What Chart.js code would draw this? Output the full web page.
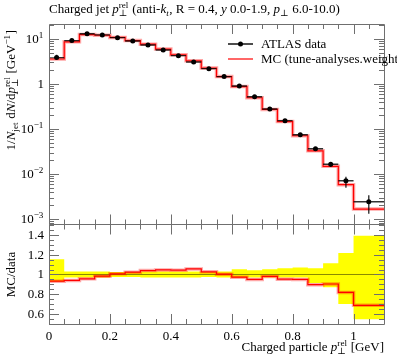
<!DOCTYPE html>
<html><head><meta charset="utf-8">
<script src="https://cdn.jsdelivr.net/npm/chart.js@4"></script>
<style>html,body{margin:0;padding:0;background:#fff;}canvas{display:block;}</style>
</head><body>
<canvas id="c" width="397" height="358"></canvas>
<script>
// ---------------- data ----------------
const binEdges = [0, 0.05, 0.1, 0.15, 0.2, 0.25, 0.3, 0.35, 0.4, 0.45, 0.5, 0.55, 0.6, 0.65, 0.7, 0.75, 0.8, 0.85, 0.9, 0.95, 1.0, 1.1];
const dataValues = [3.85, 9.2, 13.1, 12.3, 10.7, 9.0, 7.36, 5.7, 4.26, 3.08, 2.19, 1.46, 0.90, 0.52, 0.278, 0.153, 0.0745, 0.0365, 0.0164, 0.0071, 0.00242];
const dataErrUpRel = [0.155, 0.03, 0.03, 0.03, 0.025, 0.025, 0.03, 0.03, 0.03, 0.03, 0.025, 0.03, 0.054, 0.044, 0.054, 0.064, 0.071, 0.064, 0.115, 0.22, 0.396];
const dataErrDownRel = [0.074, 0.03, 0.03, 0.03, 0.025, 0.025, 0.03, 0.03, 0.03, 0.03, 0.025, 0.03, 0.034, 0.03, 0.03, 0.03, 0.03, 0.088, 0.129, 0.30, 0.457];
const mcValues = [3.59, 8.64, 12.5, 12.1, 10.8, 9.2, 7.65, 5.97, 4.45, 3.26, 2.25, 1.46, 0.876, 0.494, 0.272, 0.146, 0.0708, 0.0327, 0.0148, 0.0058, 0.00166];
const ratioValues = [0.932, 0.939, 0.956, 0.983, 1.007, 1.024, 1.04, 1.047, 1.044, 1.057, 1.027, 1.003, 0.973, 0.95, 0.98, 0.952, 0.95, 0.896, 0.903, 0.817, 0.685];
const xTickValues = [0, 0.2, 0.4, 0.6, 0.8, 1.0];
const xTickLabels = ['0', '0.2', '0.4', '0.6', '0.8', '1'];
const yTickValues = [10, 1, 0.1, 0.01, 0.001];
const yTickBase = ['10', '1', '10', '10', '10'];
const yTickExp = ['1', '', '\u22121', '\u22122', '\u22123'];
const ratioTickValues = [0.6, 0.8, 1.0, 1.2, 1.4];
const ratioTickLabels = ['0.6', '0.8', '1', '1.2', '1.4'];
const legendLabels = ['ATLAS data', 'MC (tune-analyses.weight'];

// ---------------- helpers ----------------
function stepPoints(vals) {
  const pts = vals.map((v, i) => ({x: binEdges[i], y: v}));
  pts.push({x: binEdges[binEdges.length - 1], y: vals[vals.length - 1]});
  return pts;
}
const bandHigh = stepPoints(dataErrUpRel.map(e => 1 + e));
const bandLow = stepPoints(dataErrDownRel.map(e => 1 - e));
const centers = dataValues.map((v, i) => ({x: (binEdges[i] + binEdges[i + 1]) / 2, y: v}));

const SERIF = '"Liberation Serif", "DejaVu Serif", serif';
const FS = 13;
function font(size, it) { return (it ? 'italic ' : '') + size + 'px ' + SERIF; }
function segWidth(ctx, s, size) {
  if (s.t !== undefined) { ctx.font = font(size, s.i); return ctx.measureText(s.t).width; }
  const ss = size * 0.7; let w = 0;
  if (s.sub) { ctx.font = font(ss, s.si); w = Math.max(w, ctx.measureText(s.sub).width); }
  if (s.sup) { ctx.font = font(ss, s.pi); w = Math.max(w, ctx.measureText(s.sup).width); }
  return w + 0.6;
}
function drawRich(ctx, segs, x, y, size, align) {
  const total = segs.reduce((a, s) => a + segWidth(ctx, s, size), 0);
  let cx = align === 'right' ? x - total : align === 'center' ? x - total / 2 : x;
  ctx.textAlign = 'left'; ctx.textBaseline = 'alphabetic';
  for (const s of segs) {
    const w = segWidth(ctx, s, size);
    if (s.t !== undefined) { ctx.font = font(size, s.i); ctx.fillText(s.t, cx, y); }
    else {
      const ss = size * 0.7;
      if (s.sub) { ctx.font = font(ss, s.si); ctx.fillText(s.sub, cx, y + size * 0.25); }
      if (s.sup) { ctx.font = font(ss, s.pi); ctx.fillText(s.sup, cx, y - size * 0.4); }
    }
    cx += w;
  }
  return total;
}
const PERP = '\u22a5';
const titleSegs = [{t: 'Charged jet '}, {t: 'p', i: true}, {sub: PERP, sup: 'rel'}, {t: ' (anti-'}, {t: 'k', i: true}, {sub: 't', si: true},
  {t: ', R = 0.4, '}, {t: 'y', i: true}, {t: ' 0.0-1.9, '}, {t: 'p', i: true}, {sub: PERP}, {t: ' 6.0-10.0)'}];
const xTitleSegs = [{t: 'Charged particle '}, {t: 'p', i: true}, {sub: PERP, sup: 'rel'}, {t: ' [GeV]'}];
const yTitleSegs = [{t: '1/'}, {t: 'N', i: true}, {sub: 'jet'}, {t: ' d'}, {t: 'N', i: true}, {t: '/d'}, {t: 'p', i: true}, {sub: PERP, sup: 'rel'}, {t: ' [GeV'}, {sup: '\u22121'}, {t: ']'}];
const rTitleSegs = [{t: 'MC/data'}];

const FRAME = '#6f6f6f';
const MAJ = 10, MIN = 5;

const rivetPlugin = {
  id: 'rivet',
  beforeDatasetDraw(chart, args) {
    const ds = chart.data.datasets[args.index];
    if (ds.label !== legendLabels[0]) return;
    const ctx = chart.ctx, xS = chart.scales.x, yS = chart.scales.y;
    ctx.save();
    ctx.strokeStyle = 'rgba(0,0,0,0.8)';
    ctx.lineWidth = 1.4;
    dataValues.forEach((v, i) => {
      const x0 = xS.getPixelForValue(binEdges[i]), x1 = xS.getPixelForValue(binEdges[i + 1]);
      const xc = xS.getPixelForValue(centers[i].x);
      const yc = yS.getPixelForValue(v);
      const yu = yS.getPixelForValue(v * (1 + dataErrUpRel[i]));
      const yd = yS.getPixelForValue(v * (1 - dataErrDownRel[i]));
      ctx.beginPath();
      ctx.moveTo(x0, yc); ctx.lineTo(x1, yc);
      ctx.moveTo(xc, yu); ctx.lineTo(xc, yd);
      ctx.stroke();
    });
    ctx.restore();
  },
  afterDatasetsDraw(chart) {
    const ctx = chart.ctx, xS = chart.scales.x, yS = chart.scales.y, rS = chart.scales.y2;
    const L = xS.left, R = xS.right;
    const T = yS.top, M = yS.bottom, B = rS.bottom, RT = rS.top;
    ctx.save();
    ctx.strokeStyle = FRAME; ctx.lineWidth = 1;
    ctx.beginPath();
    const line = (a, b, c, d) => { ctx.moveTo(a, b); ctx.lineTo(c, d); };
    ctx.rect(Math.round(L) + 0.5, Math.round(T) + 0.5, Math.round(R - L), Math.round(M - T));
    ctx.rect(Math.round(L) + 0.5, Math.round(RT) + 0.5, Math.round(R - L), Math.round(B - RT));
    for (let k = 0; k <= 22; k++) {
      const v = k * 0.05;
      const major = xTickValues.some(t => Math.abs(t - v) < 1e-6);
      const len = major ? MAJ : MIN;
      const px = Math.round(xS.getPixelForValue(v)) + 0.5;
      if (px < L + 1 || px > R - 1) continue;
      line(px, T, px, T + len);
      line(px, M, px, M - len);
      line(px, RT, px, RT + len);
      line(px, B, px, B - len);
    }
    for (let d = -4; d <= 1; d++) {
      for (let m = 1; m <= 9; m++) {
        const v = m * Math.pow(10, d);
        if (v < yS.min || v > yS.max) continue;
        const py = Math.round(yS.getPixelForValue(v)) + 0.5;
        const len = m === 1 ? MAJ : MIN;
        line(L, py, L + len, py);
        line(R, py, R - len, py);
      }
    }
    for (let k = 10; k <= 30; k++) {
      const v = k * 0.05;
      if (v < rS.min || v > rS.max) continue;
      const major = ratioTickValues.some(t => Math.abs(t - v) < 1e-6);
      const len = major ? MAJ : MIN;
      const py = Math.round(rS.getPixelForValue(v)) + 0.5;
      line(L, py, L + len, py);
      line(R, py, R - len, py);
    }
    ctx.stroke();
    ctx.restore();
  },
  afterDraw(chart) {
    const ctx = chart.ctx, xS = chart.scales.x, yS = chart.scales.y, rS = chart.scales.y2;
    ctx.save();
    ctx.fillStyle = '#000';
    drawRich(ctx, titleSegs, xS.left, 13, FS, 'left');
    xTickValues.forEach((v, i) => {
      ctx.font = font(FS); ctx.textAlign = 'center'; ctx.textBaseline = 'alphabetic';
      ctx.fillText(xTickLabels[i], xS.getPixelForValue(v), 340);
    });
    drawRich(ctx, xTitleSegs, xS.right, 351, FS, 'right');
    yTickValues.forEach((v, i) => {
      const py = yS.getPixelForValue(v);
      const segs = [{t: yTickBase[i]}];
      if (yTickExp[i]) segs.push({sup: yTickExp[i]});
      drawRich(ctx, segs, 44, py + 4, FS, 'right');
    });
    ratioTickValues.forEach((v, i) => {
      const py = rS.getPixelForValue(v);
      drawRich(ctx, [{t: ratioTickLabels[i]}], 44, py + 4, FS, 'right');
    });
    ctx.save();
    ctx.translate(15, yS.top + 6);
    ctx.rotate(-Math.PI / 2);
    drawRich(ctx, yTitleSegs, 0, 0, FS, 'right');
    ctx.restore();
    ctx.save();
    ctx.translate(15, rS.getPixelForValue(1));
    ctx.rotate(-Math.PI / 2);
    drawRich(ctx, rTitleSegs, 0, 0, FS, 'center');
    ctx.restore();
    ctx.lineWidth = 1.4;
    ctx.strokeStyle = '#000';
    ctx.beginPath(); ctx.moveTo(228, 44); ctx.lineTo(253, 44); ctx.stroke();
    ctx.beginPath(); ctx.arc(240.5, 44, 2.5, 0, Math.PI * 2); ctx.fill();
    ctx.strokeStyle = '#ff0000'; ctx.lineWidth = 1.2;
    ctx.beginPath(); ctx.moveTo(228, 59); ctx.lineTo(253, 59); ctx.stroke();
    ctx.fillStyle = '#000';
    drawRich(ctx, [{t: legendLabels[0]}], 261, 48, FS, 'left');
    drawRich(ctx, [{t: legendLabels[1]}], 261, 63, FS, 'left');
    ctx.restore();
  }
};

const stepLine = (data, axis, color, width, order, extra) => Object.assign({
  type: 'line', data, yAxisID: axis, stepped: 'before', borderColor: color, borderWidth: width,
  pointRadius: 0, fill: false, order, tension: 0
}, extra || {});

new Chart(document.getElementById('c'), {
  type: 'line',
  data: {
    datasets: [
      stepLine(bandHigh, 'y2', 'rgba(0,0,0,0)', 0, 10, {label: 'band-high', fill: '+1', backgroundColor: '#ffff00'}),
      stepLine(bandLow, 'y2', 'rgba(0,0,0,0)', 0, 10, {label: 'band-low'}),
      {type: 'line', label: 'ref', data: [{x: 0, y: 1}, {x: 1.1, y: 1}], yAxisID: 'y2', borderColor: 'rgba(40,40,0,0.55)', borderWidth: 1, pointRadius: 0, fill: false, order: 9},
      stepLine(stepPoints(ratioValues), 'y2', 'rgba(255,0,0,0.35)', 3.5, 8, {label: 'ratio-halo'}),
      stepLine(stepPoints(ratioValues), 'y2', '#ff0000', 1.2, 7, {label: 'ratio'}),
      stepLine(stepPoints(mcValues), 'y', 'rgba(255,0,0,0.35)', 3.5, 8, {label: 'mc-halo'}),
      stepLine(stepPoints(mcValues), 'y', '#ff0000', 1.2, 7, {label: legendLabels[1]}),
      {type: 'scatter', label: legendLabels[0], data: centers, yAxisID: 'y', pointRadius: 2.5, pointBackgroundColor: '#000', pointBorderWidth: 0, showLine: false, order: 1}
    ]
  },
  options: {
    responsive: false,
    devicePixelRatio: 1,
    animation: false,
    events: [],
    layout: {padding: {left: 49, right: 13, top: 24, bottom: 34}},
    plugins: {legend: {display: false}, tooltip: {enabled: false}, title: {display: false}},
    scales: {
      x: {type: 'linear', min: 0, max: 1.1, display: false},
      y: {type: 'logarithmic', min: 7.55e-4, max: 21.5, display: false, position: 'left', stack: 'panels', stackWeight: 2.015, weight: 2},
      y2: {type: 'linear', min: 0.495, max: 1.51, display: false, position: 'left', stack: 'panels', stackWeight: 1, weight: 1}
    }
  },
  plugins: [rivetPlugin]
});
</script>
</body></html>
